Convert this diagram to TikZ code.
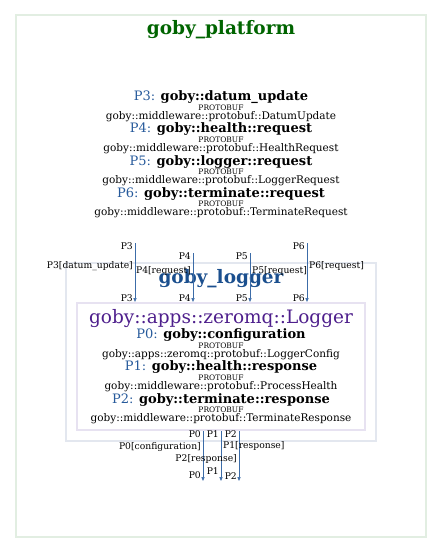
\documentclass[tikz,border=0pt]{standalone}
\usepackage{fontspec}
\setmainfont{DejaVu Serif}
\usetikzlibrary{arrows.meta,positioning}
\definecolor{platgreen}{HTML}{006400}
\definecolor{platframe}{HTML}{E2EEE2}
\definecolor{logblue}{HTML}{1B4F8E}
\definecolor{logframe}{HTML}{E3E7EF}
\definecolor{apppurple}{HTML}{4E1F8C}
\definecolor{appframe}{HTML}{E7E2F1}
\definecolor{portblue}{HTML}{275A9B}
\definecolor{edgeblue}{HTML}{3C6CA8}
\tikzset{%
      cluster/.style = { draw, line width=2pt, inner sep=0pt },
    clustitle/.style = { anchor=mid, inner sep=0pt, font=\bfseries\fontsize{18.5}{20}\selectfont },
      pubname/.style = { anchor=mid, inner sep=0pt, font=\fontsize{13}{15}\selectfont },
       pubenc/.style = { anchor=mid, inner sep=0pt, font=\fontsize{7.5}{8}\selectfont },
      pubtype/.style = { anchor=mid, inner sep=0pt, font=\fontsize{10.5}{12}\selectfont },
     portlab/.style = { anchor=mid east, inner sep=0pt, font=\fontsize{9.2}{10}\selectfont },
    portlabr/.style = { portlab, anchor=mid west },
         edge/.style = { draw=edgeblue, line width=0.7pt, -{Triangle[length=4pt,width=3.2pt]} }
}
\newcommand\pubtext[2]{{\color{portblue}#1:} \textbf{#2}}

\begin{document}
\begin{tikzpicture}[x=1pt,y=-1pt]
\useasboundingbox (0,0) rectangle (443,553);
% clusters
\node[cluster,draw=platframe,minimum width=410.5pt,minimum height=521.5pt] (platform) at (220.75,276.25) {};
\node[cluster,draw=logframe,minimum width=310pt,minimum height=178pt] (logger) at (221,352) {};
\node[cluster,draw=appframe,minimum width=288pt,minimum height=127pt] (app) at (221,366.5) {};
\node[clustitle,text=platgreen] (platformtitle) at (221,32) {goby\_platform};
\node[clustitle,text=logblue] (loggertitle) at (221,281) {goby\_logger};
\node[anchor=mid,inner sep=0pt,text=apppurple,font=\fontsize{18.5}{20}\selectfont] (apptitle) at (221,321) {goby::apps::zeromq::Logger};
% publications of goby_platform
\foreach \p/\g/\t [count=\i] in {P3/goby::datum\_update/goby::middleware::protobuf::DatumUpdate,
                                 P4/goby::health::request/goby::middleware::protobuf::HealthRequest,
                                 P5/goby::logger::request/goby::middleware::protobuf::LoggerRequest,
                                 P6/goby::terminate::request/goby::middleware::protobuf::TerminateRequest}{
  \node[pubname] (pub\i) at (221,98+32.3*\i-32.3) {\pubtext{\p}{\g}};
  \node[pubenc] (pubenc\i) at (221,107.5+32.3*\i-32.3) {PROTOBUF};
  \node[pubtype] (pubtype\i) at (221,116.5+32.3*\i-32.3) {\t};
}
% publications of goby::apps::zeromq::Logger
\foreach \p/\g/\t [count=\i] in {P0/goby::configuration/goby::apps::zeromq::protobuf::LoggerConfig,
                                 P1/goby::health::response/goby::middleware::protobuf::ProcessHealth,
                                 P2/goby::terminate::response/goby::middleware::protobuf::TerminateResponse}{
  \node[pubname] (apub\i) at (221,336+32.3*\i-32.3) {\pubtext{\p}{\g}};
  \node[pubenc] (apubenc\i) at (221,345.5+32.3*\i-32.3) {PROTOBUF};
  \node[pubtype] (apubtype\i) at (221,354.5+32.3*\i-32.3) {\t};
}
% subscriptions
\coordinate (p3in) at (135,243);
\coordinate (p4in) at (193,253);
\coordinate (p5in) at (250,253);
\coordinate (p6in) at (307,243);
\draw[edge] (p3in) -- (p3in |- app.north);
\draw[edge] (p4in) -- (p4in |- app.north);
\draw[edge] (p5in) -- (p5in |- app.north);
\draw[edge] (p6in) -- (p6in |- app.north);
\node[portlab] (p3tail) at (133,247) {P3};
\node[portlab] (p3lab) at (133,266) {P3[datum\_update]};
\node[portlab] (p3head) at (133,299) {P3};
\node[portlab] (p4tail) at (191,257) {P4};
\node[portlab] (p4lab) at (191,271) {P4[request]};
\node[portlab] (p4head) at (191,299) {P4};
\node[portlab] (p5tail) at (248,257) {P5};
\node[portlabr] (p5lab) at (252,271) {P5[request]};
\node[portlab] (p5head) at (248,299) {P5};
\node[portlab] (p6tail) at (305,247) {P6};
\node[portlabr] (p6lab) at (309,266) {P6[request]};
\node[portlab] (p6head) at (305,299) {P6};
% publications out
\coordinate (p0out) at (203,481);
\coordinate (p1out) at (221,481);
\coordinate (p2out) at (239,481);
\draw[edge] (p0out |- app.south) -- (p0out);
\draw[edge] (p1out |- app.south) -- (p1out);
\draw[edge] (p2out |- app.south) -- (p2out);
\node[portlab] (p0tail) at (201,435) {P0};
\node[portlab] (p0lab) at (201,447) {P0[configuration]};
\node[portlab] (p0head) at (201,476) {P0};
\node[portlab] (p1tail) at (219,435) {P1};
\node[portlabr] (p1lab) at (223,446) {P1[response]};
\node[portlab] (p1head) at (219,472) {P1};
\node[portlab] (p2tail) at (237,435) {P2};
\node[portlab] (p2lab) at (237,459) {P2[response]};
\node[portlab] (p2head) at (237,477) {P2};
\end{tikzpicture}
\end{document}
